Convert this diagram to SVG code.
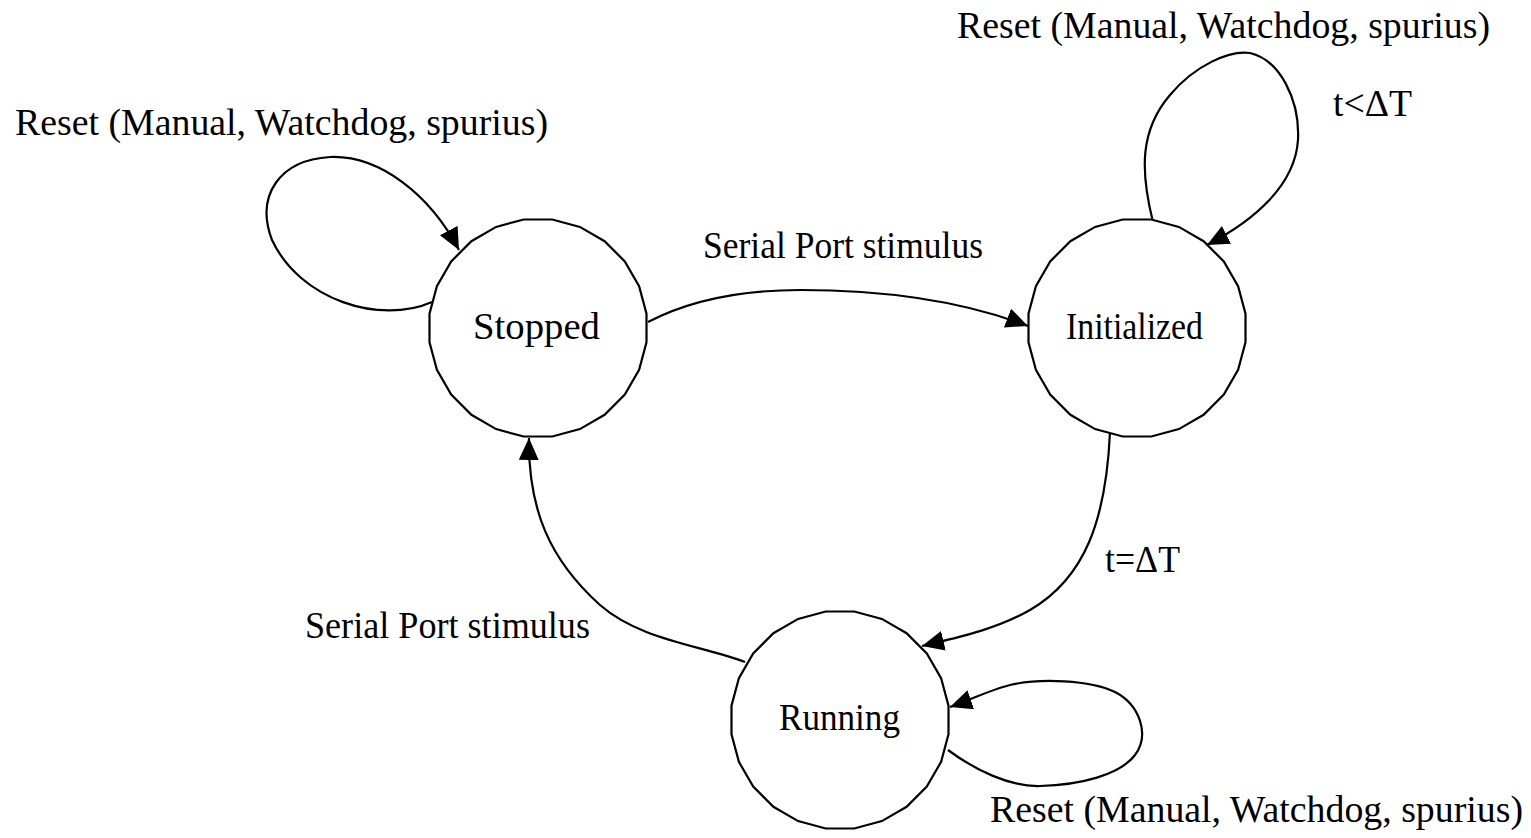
<svg xmlns="http://www.w3.org/2000/svg" width="1531" height="838" viewBox="0 0 1531 838">
<style>
.state{fill:#fff;stroke:#000;stroke-width:2.2}
.edge{fill:none;stroke:#000;stroke-width:2.2}
text{font-family:"Liberation Serif","Times New Roman",serif;font-size:38px;fill:#000}
</style>
<defs>
<polygon id="circ" points="108.5,14.3 101.1,41.9 86.8,66.6 66.6,86.8 41.9,101.1 14.3,108.5 -14.3,108.5 -41.9,101.1 -66.6,86.8 -86.8,66.6 -101.1,41.9 -108.5,14.3 -108.5,-14.3 -101.1,-41.9 -86.8,-66.6 -66.6,-86.8 -41.9,-101.1 -14.3,-108.5 14.3,-108.5 41.9,-101.1 66.6,-86.8 86.8,-66.6 101.1,-41.9 108.5,-14.3"/>
<marker id="arr" markerUnits="userSpaceOnUse" markerWidth="24" markerHeight="22" refX="22" refY="10" orient="auto">
<path d="M0,0 L22,10 L0,20 z" fill="#000"/>
</marker>
</defs>
<rect width="1531" height="838" fill="#fff"/>
<g id="connectors">
<path class="edge" d="M432,302 C380,325 300,300 272,240 C255,195 280,160 330,157 C380,155 430,195 459,250" marker-end="url(#arr)"/>
<path class="edge" d="M648,322 C700,295 760,290 800,290 C880,290 960,300 1028,326" marker-end="url(#arr)"/>
<path class="edge" d="M1153,222 C1140,170 1140,130 1170,95 C1195,65 1230,50 1250,53 C1280,60 1300,100 1298,140 C1295,185 1255,220 1207,245" marker-end="url(#arr)"/>
<path class="edge" d="M1110,432 C1106,520 1085,578 1030,610 C995,630 955,638 922,646" marker-end="url(#arr)"/>
<path class="edge" d="M745,662 C700,645 640,640 600,605 C550,560 528,510 529,438" marker-end="url(#arr)"/>
<path class="edge" d="M948,750 C975,770 1010,787 1040,786 C1080,785 1120,775 1135,755 C1150,735 1140,705 1115,692 C1090,680 1040,678 1010,685 C990,690 970,700 950,707" marker-end="url(#arr)"/>
<text x="15" y="135" textLength="533" lengthAdjust="spacingAndGlyphs">Reset (Manual, Watchdog, spurius)</text>
<text x="703" y="258" textLength="280" lengthAdjust="spacingAndGlyphs">Serial Port stimulus</text>
<text x="957" y="38" textLength="533" lengthAdjust="spacingAndGlyphs">Reset (Manual, Watchdog, spurius)</text>
<text x="1333" y="116" textLength="79" lengthAdjust="spacingAndGlyphs">t&lt;ΔT</text>
<text x="1105" y="572" textLength="75" lengthAdjust="spacingAndGlyphs">t=ΔT</text>
<text x="305" y="638" textLength="285" lengthAdjust="spacingAndGlyphs">Serial Port stimulus</text>
<text x="990" y="822" textLength="533" lengthAdjust="spacingAndGlyphs">Reset (Manual, Watchdog, spurius)</text>
</g>
<g id="stopped">
<use href="#circ" class="state" transform="translate(538,328)"/>
<text x="473" y="339" textLength="127" lengthAdjust="spacingAndGlyphs">Stopped</text>
</g>
<g id="initialized">
<use href="#circ" class="state" transform="translate(1137,328)"/>
<text x="1066" y="339" textLength="137" lengthAdjust="spacingAndGlyphs">Initialized</text>
</g>
<g id="running">
<use href="#circ" class="state" transform="translate(840,720)"/>
<text x="779" y="730" textLength="121" lengthAdjust="spacingAndGlyphs">Running</text>
</g>
</svg>
